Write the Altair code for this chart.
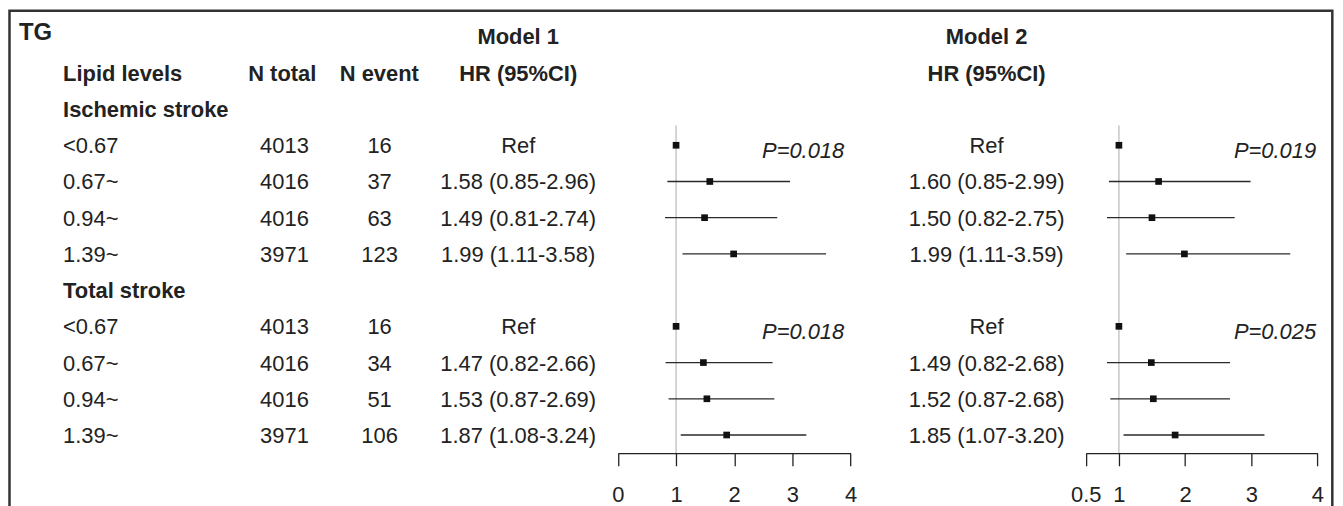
import altair as alt
import pandas as pd

# ---------------- data ----------------
levels = ["<0.67", "0.67~", "0.94~", "1.39~"]
groups = ["Ischemic stroke", "Total stroke"]
n_total = [[4013, 4016, 4016, 3971], [4013, 4016, 4016, 3971]]
n_event = [[16, 37, 63, 123], [16, 34, 51, 106]]

m1_hr = [[1.00, 1.58, 1.49, 1.99], [1.00, 1.47, 1.53, 1.87]]
m1_lo = [[None, 0.85, 0.81, 1.11], [None, 0.82, 0.87, 1.08]]
m1_hi = [[None, 2.96, 2.74, 3.58], [None, 2.66, 2.69, 3.24]]
m2_hr = [[1.00, 1.60, 1.50, 1.99], [1.00, 1.49, 1.52, 1.85]]
m2_lo = [[None, 0.85, 0.82, 1.11], [None, 0.82, 0.87, 1.07]]
m2_hi = [[None, 2.99, 2.75, 3.59], [None, 2.68, 2.68, 3.20]]
m1_p = ["0.018", "0.018"]
m2_p = ["0.019", "0.025"]

m1_ticks = [0, 1, 2, 3, 4]
m2_ticks = [0.5, 1, 2, 3, 4]
ref_value = [1]

headers = {"label": "Lipid levels", "ntot": "N total", "nev": "N event", "hr": "HR (95%CI)"}
panel_title = "TG"
model_titles = ["Model 1", "Model 2"]

# ---------------- tables ----------------
def hr_text(h, l, u):
    if l is None:
        return "Ref"
    return f"{h:.2f} ({l:.2f}-{u:.2f})"

body, grp, f1, f2, p1, p2 = [], [], [], [], [], []
for gi, g in enumerate(groups):
    start = 1 + 5 * gi
    grp.append({"row": start, "label": g})
    p1.append({"row": start + 1, "p": "P=" + m1_p[gi]})
    p2.append({"row": start + 1, "p": "P=" + m2_p[gi]})
    for li, lev in enumerate(levels):
        r = start + 1 + li
        body.append({
            "row": r, "label": lev,
            "ntot": str(n_total[gi][li]), "nev": str(n_event[gi][li]),
            "hr1": hr_text(m1_hr[gi][li], m1_lo[gi][li], m1_hi[gi][li]),
            "hr2": hr_text(m2_hr[gi][li], m2_lo[gi][li], m2_hi[gi][li]),
        })
        f1.append({"row": r, "hr": m1_hr[gi][li], "lo": m1_lo[gi][li], "hi": m1_hi[gi][li]})
        f2.append({"row": r, "hr": m2_hr[gi][li], "lo": m2_lo[gi][li], "hi": m2_hi[gi][li]})

body_df = pd.DataFrame(body)
grp_df = pd.DataFrame(grp)
head_df = pd.DataFrame([{"row": 0, **headers}])
f1_df = pd.DataFrame(f1)
f2_df = pd.DataFrame(f2)
p1_df = pd.DataFrame(p1)
p2_df = pd.DataFrame(p2)

# ---------------- style ----------------
FONT = "Liberation Sans"
FS = 22
INK = "#222222"
W, H = 1330, 446
PAD = {"left": 3, "top": 0, "right": 0, "bottom": 52}

yscale = alt.Scale(domain=[0, 10], range=[64, 427.8])


def ytxt():
    return alt.Y("row:Q", scale=yscale, axis=None)


def col_text(df, field, xpos, align="center", weight="normal", style="normal", dy=8):
    return alt.Chart(df).mark_text(
        font=FONT, fontSize=FS, color=INK, align=align, baseline="alphabetic",
        dy=dy, fontWeight=weight, fontStyle=style,
    ).encode(x=alt.value(xpos), y=ytxt(), text=f"{field}:N")


def title_text(txt, xpos, ypos, align, size=FS):
    return alt.Chart(pd.DataFrame({"t": [txt]})).mark_text(
        font=FONT, fontSize=size, color=INK, align=align, baseline="alphabetic",
        dy=8, fontWeight="bold",
    ).encode(x=alt.value(xpos), y=alt.value(ypos), text="t:N")


def forest(df, pdf, domain, rng, ticks, p_right):
    xs = alt.Scale(domain=domain, range=rng, zero=False, nice=False)
    ax = alt.Axis(
        title=None, values=ticks, format="~g", orient="bottom", grid=False,
        domainColor=INK, domainWidth=1.3, tickColor=INK, tickWidth=1.3,
        tickSize=12.7, labelFont=FONT, labelFontSize=FS, labelColor=INK,
        labelPadding=19, labelFlush=False, labelOverlap=False, labelBound=False,
    )
    ref = alt.Chart(pd.DataFrame({"v": ref_value})).mark_rule(
        color="#bdbdbd", strokeWidth=1.3
    ).encode(x=alt.X("v:Q", scale=xs, axis=ax), y=alt.value(117), y2=alt.value(H))
    ci = alt.Chart(df).transform_filter("isValid(datum.lo)").mark_rule(
        color="#2a2a2a", strokeWidth=1.3
    ).encode(x=alt.X("lo:Q", scale=xs, axis=ax), x2="hi:Q", y=ytxt())
    pts = alt.Chart(df).mark_square(size=45, color="#111111", opacity=1).encode(
        x=alt.X("hr:Q", scale=xs, axis=ax), y=ytxt()
    )
    ptxt = col_text(pdf, "p", p_right, align="right", style="italic", dy=12.5)
    return alt.layer(ref, ci, pts, ptxt)


frame = alt.Chart(pd.DataFrame({"f": [0]})).mark_rect(
    fillOpacity=0, stroke="#333333", strokeWidth=2.5
).encode(x=alt.value(-1.5), x2=alt.value(1327.3), y=alt.value(1.7), y2=alt.value(600))

LABEL_X = 52.3
texts = [
    title_text(panel_title, 8, 23.5, "left", size=24),
    title_text(model_titles[0], 509.5, 27, "center"),
    title_text(model_titles[1], 980, 27, "center"),
    col_text(head_df, "label", LABEL_X, align="left", weight="bold"),
    col_text(head_df, "ntot", 272.5, weight="bold"),
    col_text(head_df, "nev", 370, weight="bold"),
    col_text(head_df, "hr", 509.5, weight="bold"),
    col_text(head_df, "hr", 980, weight="bold"),
    col_text(grp_df, "label", LABEL_X, align="left", weight="bold"),
    col_text(body_df, "label", LABEL_X, align="left"),
    col_text(body_df, "ntot", 274.7),
    col_text(body_df, "nev", 370.3),
    col_text(body_df, "hr1", 509.5),
    col_text(body_df, "hr2", 980),
]

m1 = forest(f1_df, p1_df, [0, 4], [609.7, 843.3], m1_ticks, 837)
m2 = forest(f2_df, p2_df, [0.5, 4], [1079.7, 1312.3], m2_ticks, 1311)

chart = alt.layer(frame, *texts, m1, m2).resolve_scale(x="independent").properties(
    width=W, height=H, padding=PAD, autosize=alt.AutoSizeParams(type="none"),
    background="white",
).configure_view(stroke=None)

chart.save("out.html", embed_options={"renderer": "svg", "actions": False})
